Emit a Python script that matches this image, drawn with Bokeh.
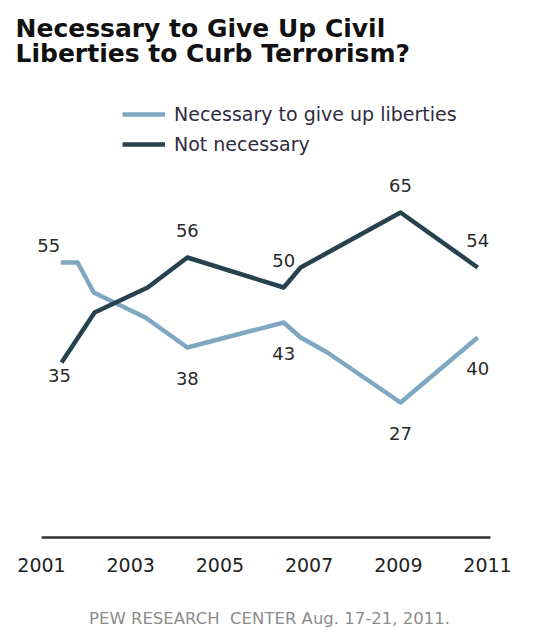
from bokeh.plotting import figure
from bokeh.models import Range1d, Label, Legend, LegendItem, LinearAxis, FixedTicker
from bokeh.embed import file_html
from bokeh.resources import INLINE
from bokeh.core.properties import value

# ---- data ----
years_nec = [2001.43, 2001.81, 2002.17, 2003.33, 2004.27, 2006.43, 2006.81, 2007.41, 2009.05, 2010.78]
vals_nec = [55, 55, 49, 44, 38, 43, 40, 37, 27, 40]
years_not = [2001.45, 2002.19, 2003.38, 2004.27, 2006.43, 2006.81, 2009.05, 2010.78]
vals_not = [35, 45, 50, 56, 50, 54, 65, 54]
tick_years = [2001, 2003, 2005, 2007, 2009, 2011]
labeled_nec = [0, 4, 5, 8, 9]
labeled_not = [0, 3, 4, 6, 7]
title_lines = ["Necessary to Give Up Civil", "Liberties to Curb Terrorism?"]
source_note = "PEW RESEARCH\u00a0 CENTER Aug. 17-21, 2011."

LIGHT = "#7fa7c2"
DARK = "#26424f"
FONT = "DejaVu Sans"

p = figure(width=531, height=633, output_backend="svg", toolbar_location=None,
           title=None, x_range=Range1d(2000.417, 2011.807), y_range=Range1d(0, 107.4),
           y_axis_location=None, min_border_left=15, min_border_right=8,
           min_border_top=0, min_border_bottom=96)
p.outline_line_color = None
p.grid.visible = False
p.background_fill_color = "white"

r1 = p.line(years_nec, vals_nec, line_color=LIGHT, line_width=4.5, line_join="round")
r2 = p.line(years_not, vals_not, line_color=DARK, line_width=4.5, line_join="round")

lab_style = dict(text_font=value(FONT), text_font_size="18px", text_color="#2a2a2a",
                 text_align="center", text_baseline="middle")

# first labels (2001)
p.text(x=[years_nec[0]], y=[vals_nec[0]], text=[str(vals_nec[0])], x_offset=-12, y_offset=-17, **lab_style)
p.text(x=[years_not[0]], y=[vals_not[0]], text=[str(vals_not[0])], x_offset=-2, y_offset=13, **lab_style)
# remaining labels: light below, dark above
p.text(x=[years_nec[i] for i in labeled_nec[1:]], y=[vals_nec[i] for i in labeled_nec[1:]],
       text=[str(vals_nec[i]) for i in labeled_nec[1:]], y_offset=31, **lab_style)
p.text(x=[years_not[i] for i in labeled_not[1:]], y=[vals_not[i] for i in labeled_not[1:]],
       text=[str(vals_not[i]) for i in labeled_not[1:]], y_offset=-27, **lab_style)

ax = p.xaxis[0]
ax.ticker = tick_years
ax.bounds = (2001, 2011.07)
ax.major_tick_line_color = None
ax.minor_tick_line_color = None
ax.axis_line_color = "#333333"
ax.axis_line_width = 2.5
ax.major_label_text_font = FONT
ax.major_label_text_font_size = "19px"
ax.major_label_text_color = "#222222"
ax.major_label_standoff = 14

# source note: label of a second, bare axis below the main one
note_axis = LinearAxis(ticker=FixedTicker(ticks=[]), axis_line_color=None,
                       major_tick_line_color=None, minor_tick_line_color=None,
                       major_label_text_font_size="0px",
                       axis_label=source_note,
                       axis_label_standoff=34, axis_label_text_font=FONT,
                       axis_label_text_font_size="16.5px", axis_label_text_font_style="normal",
                       axis_label_text_color="#8c8c8c")
p.add_layout(note_axis, "below")

legend = Legend(items=[LegendItem(label="Necessary to give up liberties", renderers=[r1]),
                       LegendItem(label="Not necessary", renderers=[r2])],
                location=(107, 382), orientation="vertical",
                border_line_color=None, background_fill_alpha=0,
                padding=0, margin=0, spacing=8, glyph_width=43, glyph_height=20,
                label_height=20, label_standoff=9, label_text_font=FONT,
                label_text_font_size="19px", label_text_color="#2e2c3e")
p.add_layout(legend)

# two-line title, in screen pixels from the frame's bottom-left
for txt, yy in zip(title_lines, [509, 484]):
    p.add_layout(Label(x=0, y=yy, x_units="screen", y_units="screen", text=txt,
                       text_font=FONT, text_font_size="25px", text_font_style="bold",
                       text_color="#111111", text_baseline="alphabetic", text_align="left"))

open("out.html", "w").write(file_html(p, INLINE))
